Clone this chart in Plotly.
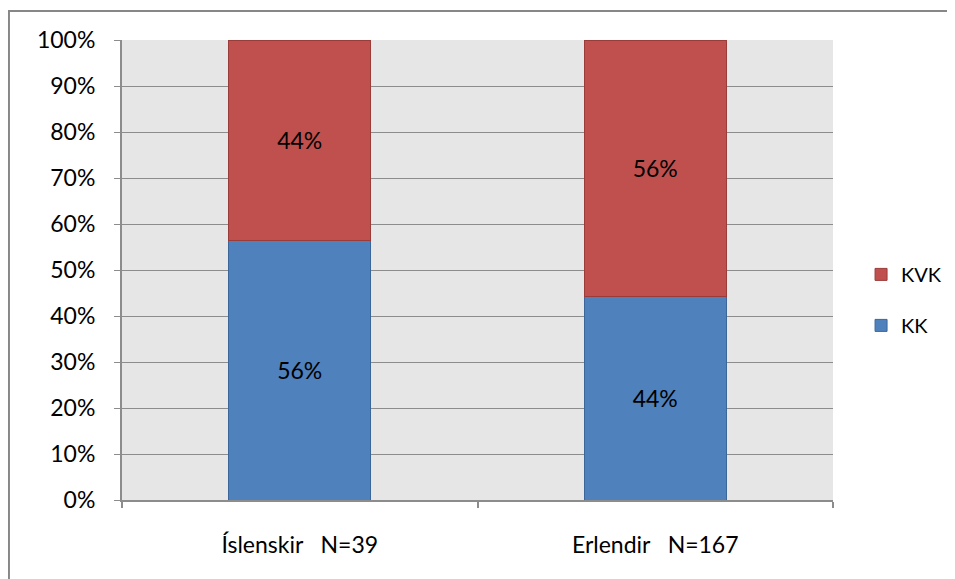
import plotly.graph_objects as go

categories = ["Íslenskir\u00a0\u00a0\u00a0N=39", "Erlendir\u00a0\u00a0\u00a0N=167"]
kk_values = [56.4, 44.3]
kvk_values = [43.6, 55.7]
y_tick_vals = [0, 10, 20, 30, 40, 50, 60, 70, 80, 90, 100]
y_tick_text = [f"{v}%" for v in y_tick_vals]

FONT = "Lato, Carlito, Calibri, sans-serif"
FS = 23

fig = go.Figure()
fig.add_trace(go.Bar(
    x=categories, y=kk_values, name="KK", legendgroup="kk", legendrank=2,
    marker=dict(color="#4F81BD", line=dict(color="#3B6699", width=1)),
    width=0.4, text=[f"{v:.0f}%" for v in kk_values], textposition="inside",
    insidetextanchor="middle", textfont=dict(color="black", size=FS, family=FONT),
    hoverinfo="skip",
))
fig.add_trace(go.Bar(
    x=categories, y=kvk_values, name="KVK", legendgroup="kvk", legendrank=1,
    marker=dict(color="#C0504D", line=dict(color="#9A3C3A", width=1)),
    width=0.4, text=[f"{v:.0f}%" for v in kvk_values], textposition="inside",
    insidetextanchor="middle", textfont=dict(color="black", size=FS, family=FONT),
    hoverinfo="skip",
))

fig.update_layout(
    width=947, height=571,
    margin=dict(l=114, r=122, t=32, b=79, autoexpand=False),
    barmode="stack",
    paper_bgcolor="white",
    plot_bgcolor="#E6E6E6",
    font=dict(family=FONT, size=FS, color="black"),
    showlegend=True,
    legend=dict(
        xref="container", x=0.9008, y=0.435, xanchor="left", yanchor="middle",
        traceorder="grouped", tracegroupgap=22,
        font=dict(size=20, family=FONT),
        bgcolor="rgba(0,0,0,0)",
    ),
    shapes=[dict(
        type="rect", xref="paper", yref="paper",
        x0=-0.159, x1=1.6, y0=-0.6, y1=1.063,
        line=dict(color="#878787", width=2), fillcolor="rgba(0,0,0,0)",
        layer="below",
    )],
)

fig.update_xaxes(
    showgrid=False, showline=True, linecolor="#8C8C8C", linewidth=2,
    ticks="outside", tickson="boundaries", ticklen=6, tickwidth=2, tickcolor="#8C8C8C",
    ticklabelstandoff=23, tickfont=dict(size=FS, family=FONT),
)
fig.update_yaxes(
    range=[0, 100], tickvals=y_tick_vals, ticktext=y_tick_text,
    showgrid=True, gridcolor="#8C8C8C", gridwidth=1,
    showline=True, linecolor="#8C8C8C", linewidth=2,
    ticks="outside", ticklen=6, tickwidth=1, tickcolor="#8C8C8C",
    ticklabelstandoff=14, tickfont=dict(size=FS, family=FONT),
    zeroline=False,
)

fig.write_html("out.html")
